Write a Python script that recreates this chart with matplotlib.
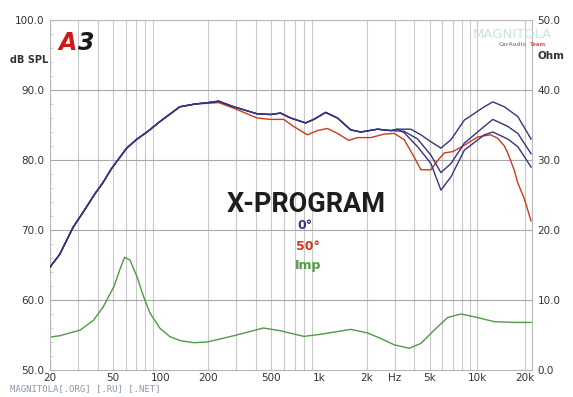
import numpy as np
import matplotlib
matplotlib.use("Agg")
import matplotlib.pyplot as plt
from matplotlib.ticker import FixedLocator, NullFormatter

# ---------------- data ----------------
f_blue = [20, 23, 28, 32.5, 38.5, 43, 49, 61, 71, 82, 99, 132, 165, 200, 232, 289,
          406, 493, 571, 661, 822, 927, 1100, 1306, 1585, 1833, 2339, 2838, 3128]
db_blue = [64.7, 66.5, 70.4, 72.6, 75.2, 76.7, 78.8, 81.7, 83.0, 84.0, 85.5, 87.6, 88.0, 88.2, 88.4, 87.6,
           86.6, 86.5, 86.7, 86.0, 85.3, 85.8, 86.8, 86.0, 84.3, 84.0, 84.4, 84.2, 84.4]

f_hi_top = [3795, 4395, 5083, 5878, 6806, 8261, 11045, 12499, 14795, 17980, 21800]
db_hi_top = [84.4, 83.6, 82.6, 81.7, 82.9, 85.7, 87.6, 88.3, 87.6, 86.2, 83.0]

f_hi_mid = [3444, 4188, 5083, 5878, 6806, 8261, 11045, 12499, 15532, 17980, 21800]
db_hi_mid = [84.1, 83.0, 80.7, 78.2, 79.5, 82.4, 84.8, 85.8, 84.8, 83.8, 80.9]

f_hi_low = [3444, 4188, 5083, 5878, 6806, 8261, 11045, 12499, 15532, 17980, 21800]
db_hi_low = [83.9, 81.9, 79.5, 75.7, 77.6, 81.4, 83.6, 84.0, 83.0, 81.9, 79.0]

f_red = [20, 23, 28, 32.5, 38.5, 43, 49, 61, 71, 82, 99, 132, 165, 200, 232, 289,
         406, 493, 597, 690, 843, 975, 1128, 1306, 1538, 1747, 2119, 2573, 2986,
         3444, 3966, 4395, 5083, 5544, 6168, 6995, 8261, 10040, 12100, 13420,
         14795, 15532, 17100, 17980, 19670, 21800]
db_red = [64.7, 66.5, 70.4, 72.6, 75.2, 76.7, 78.8, 81.7, 83.0, 84.0, 85.5, 87.6, 88.0, 88.1, 88.2, 87.4,
          86.0, 85.8, 85.8, 84.8, 83.6, 84.2, 84.5, 83.8, 82.8, 83.2, 83.2, 83.7, 83.8,
          82.9, 80.5, 78.6, 78.6, 79.8, 81.0, 81.2, 82.1, 83.3, 83.6, 83.1,
          82.0, 81.0, 78.5, 76.7, 74.6, 71.3]

f_imp = [20, 23.1, 31.0, 37.6, 43.3, 50.6, 55.5, 59.2, 64.0, 70.9, 77.9, 85.7, 99, 114.4,
         132.6, 161.3, 196.8, 290, 445, 571, 802, 1023, 1585, 2019, 2454, 2978, 3707,
         4395, 5335, 6485, 7874, 9555, 12790, 17100, 21800]
ohm_imp = [4.7, 4.9, 5.7, 7.1, 9.0, 11.9, 14.5, 16.1, 15.7, 13.3, 10.5, 8.1, 5.95, 4.76,
           4.2, 3.9, 4.0, 4.9, 6.0, 5.6, 4.8, 5.1, 5.8, 5.3, 4.5, 3.6, 3.1,
           3.8, 5.7, 7.5, 8.0, 7.6, 6.9, 6.8, 6.8]

xtick_vals = [20, 50, 100, 200, 500, 1000, 2000, 3000, 5000, 10000, 20000]
xtick_labels = ["20", "50", "100", "200", "500", "1k", "2k", "Hz", "5k", "10k", "20k"]
ytick_left = [50, 60, 70, 80, 90, 100]
ytick_right = [0, 10, 20, 30, 40, 50]

# ---------------- style ----------------
BLUE = "#34347f"
RED = "#d0381c"
GREEN = "#4f9a44"
GRID = "#c8c8c8"
TXT = "#333333"

fig = plt.figure(figsize=(5.73, 3.97), dpi=100)
ax = fig.add_axes([50/573, 1-370/397, 482/573, 350/397])
ax.set_xscale("log")
ax.set_xlim(20, 22100)
ax.set_ylim(50, 100)

# grid
grid_f = [v * m for m in (10, 100, 1000) for v in range(2, 10)] + [10000, 20000]
for g in grid_f:
    if 20 <= g <= 20000:
        ax.axvline(g, color=GRID, lw=0.8, zorder=0)
for h in [60, 70, 80, 90, 100]:
    ax.axhline(h, color="#a8a8a8", lw=0.8, zorder=0)

ax.plot(f_imp, [v + 50 for v in ohm_imp], color=GREEN, lw=1.0, zorder=2)
ax.plot(f_red, db_red, color=RED, lw=1.0, zorder=3)
ax.plot(f_blue + f_hi_low, db_blue + db_hi_low, color=BLUE, lw=1.0, zorder=4)
ax.plot(f_blue[:-1] + f_hi_mid, db_blue[:-1] + db_hi_mid, color=BLUE, lw=1.0, zorder=4)
ax.plot(f_blue + f_hi_top, db_blue + db_hi_top, color=BLUE, lw=1.0, zorder=4)

for s in ax.spines.values():
    s.set_color("#b8b8b8")
    s.set_linewidth(0.8)

ax.xaxis.set_major_locator(FixedLocator(xtick_vals))
ax.set_xticklabels(xtick_labels)
ax.xaxis.set_minor_formatter(NullFormatter())
ax.tick_params(axis="x", which="both", length=0, labelsize=7.5, colors=TXT, pad=2)
ax.set_yticks(ytick_left)
ax.set_yticklabels([f"{v:.1f}" for v in ytick_left])
ax.yaxis.set_minor_locator(FixedLocator(np.arange(50, 100, 2)))
ax.tick_params(axis="y", which="major", length=0, labelsize=7.5, colors=TXT, pad=4)
ax.tick_params(axis="y", which="minor", length=2, color="#c8c8c8", direction="in")

ax2 = ax.twinx()
ax2.set_ylim(0, 50)
ax2.set_yticks(ytick_right)
ax2.set_yticklabels([f"{v:.1f}" for v in ytick_right])
ax2.tick_params(axis="y", length=0, labelsize=7.5, colors=TXT, pad=4)
for s in ax2.spines.values():
    s.set_visible(False)

# axis titles
fig.text(10/573, 1-60/397, "dB SPL", fontsize=7, color=TXT, va="center", ha="left", fontweight="bold")
fig.text(537/573, 1-56/397, "Ohm", fontsize=7.5, color=TXT, va="center", ha="left", fontweight="bold")

# A3 logo
fig.text(59/573, 1-43/397, "A", fontsize=17, color="#d01818", fontweight="bold", style="italic",
         va="center", ha="left", family="DejaVu Sans")
fig.text(78/573, 1-43/397, "3", fontsize=17, color="#1a1a1a", fontweight="bold", style="italic",
         va="center", ha="left", family="DejaVu Sans")

# watermark
fig.text(473/573, 1-34/397, "MAGNITOLA", fontsize=9.5, color="#bfe3c8", alpha=0.85,
         va="center", ha="left", family="Liberation Sans Narrow")
fig.text(527/573, 1-45/397, "CarAudio", fontsize=4, color="#9a9a9a", va="center", ha="right", fontweight="bold")
fig.text(530/573, 1-45/397, "Team", fontsize=4, color="#e06060", va="center", ha="left", fontweight="bold")

# title and legend
fig.text(306/573, 1-205/397, "X-PROGRAM", fontsize=19.5, fontweight="bold", color="#1e1e1e",
         ha="center", va="center", family="Roboto")
fig.text(305/573, 1-226/397, "0°", fontsize=9, fontweight="bold", color=BLUE, ha="center", va="center")
fig.text(308/573, 1-246/397, "50°", fontsize=9, fontweight="bold", color=RED, ha="center", va="center")
fig.text(308/573, 1-266/397, "Imp", fontsize=9, fontweight="bold", color=GREEN, ha="center", va="center")

fig.text(10/573, 1-389/397, "MAGNITOLA[.ORG] [.RU] [.NET]", fontsize=6.5, color="#8a9ab0",
         family="DejaVu Sans Mono", va="center", ha="left")

fig.savefig("out.png", dpi=100)
